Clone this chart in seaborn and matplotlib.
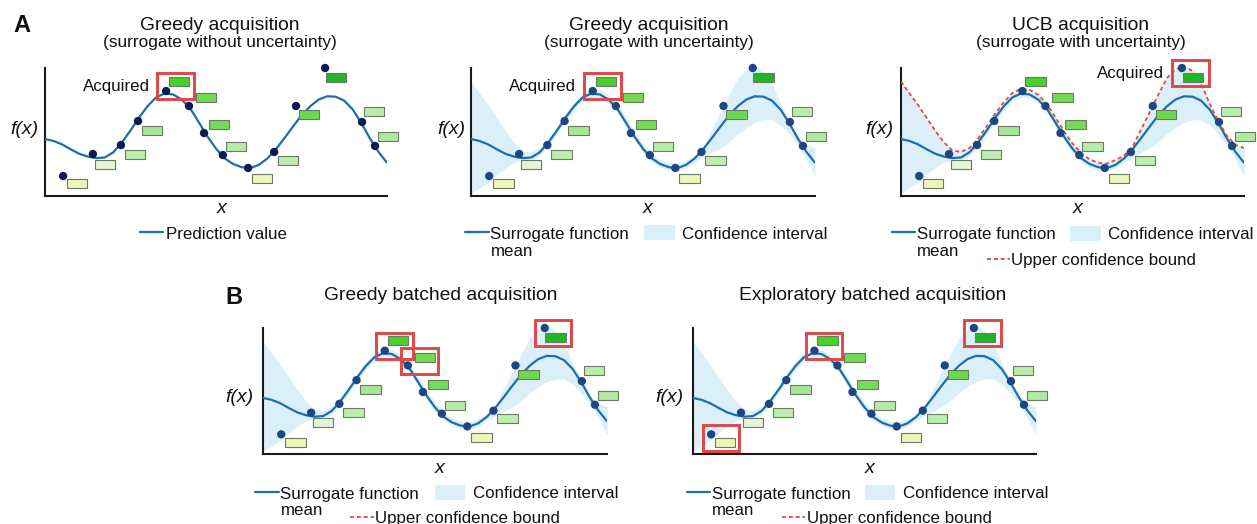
import matplotlib
matplotlib.use("Agg")
import matplotlib.pyplot as plt
from matplotlib.patches import Rectangle
from matplotlib.lines import Line2D
from matplotlib.colors import LinearSegmentedColormap
import seaborn as sns

sns.set_theme(style="white")
plt.rcParams['font.family'] = ['Liberation Sans', 'DejaVu Sans']

W, H = 1257, 524

# ---------------- data (0-100 units per panel) ----------------
curve_x = [0, 2.5, 5, 7.5, 10, 12.5, 15, 17.5, 20, 22.5, 25, 27.5, 30, 32.5, 35, 37.5, 40,
           42.5, 45, 47.5, 50, 52.5, 55, 57.5, 60, 62.5, 65, 67.5, 70, 72.5, 75, 77.5, 80,
           82.5, 85, 87.5, 90, 92.5, 95, 97.5, 100]
mean_y = [44.5, 43.0, 40.3, 36.5, 33.0, 30.8, 29.6, 30.1, 34.2, 41.9, 51.2, 61.3, 70.2, 77.1,
          80.1, 79.3, 75.3, 68.3, 57.5, 46.5, 37.0, 29.5, 25.0, 22.5, 21.8, 24.3, 29.3, 36.5,
          45.2, 54.2, 62.9, 70.0, 75.3, 77.9, 77.6, 74.5, 67.5, 57.0, 45.0, 34.5, 26.0]
ci_upper = [89.5, 80.0, 71.0, 61.0, 51.0, 42.0, 35.5, 34.5, 37.5, 45.0, 54.5, 64.5, 73.5, 80.5,
            83.8, 83.0, 79.0, 72.0, 61.5, 50.5, 41.0, 33.5, 28.5, 26.0, 25.3, 28.0, 31.5, 38.5,
            52.0, 65.5, 79.0, 92.0, 99.0, 102.0, 97.5, 88.0, 72.0, 58.5, 47.0, 40.0, 37.5]
ci_lower = [2.0, 6.5, 10.5, 17.0, 22.0, 26.5, 27.5, 27.8, 31.5, 39.0, 48.5, 58.5, 67.5, 74.5,
            77.2, 76.5, 72.5, 65.5, 54.5, 43.5, 34.0, 27.0, 22.5, 20.0, 19.5, 22.0, 26.5, 30.5,
            34.0, 37.5, 42.0, 48.5, 53.5, 57.5, 59.5, 59.5, 55.5, 48.0, 40.0, 28.5, 15.0]
ucb_y = ci_upper

dot_x = [5.3, 14.0, 22.2, 27.2, 35.4, 42.1, 46.5, 52.0, 59.4, 67.0, 73.4, 81.9, 92.7, 96.5]
dot_y = [15.6, 32.8, 39.8, 58.6, 82.0, 70.3, 49.2, 32.0, 21.9, 34.4, 70.3, 100.0, 57.8, 39.1]

rect_x = [9.4, 17.5, 26.3, 31.3, 39.2, 47.1, 50.9, 55.8, 63.5, 71.1, 77.2, 85.1, 96.2, 100.3]
rect_y = [9.4, 25.0, 32.8, 50.8, 89.8, 76.6, 55.5, 38.3, 13.3, 28.1, 63.3, 92.2, 66.4, 46.1]
rect_value = [0.0, 0.1, 0.3, 0.4, 0.85, 0.7, 0.68, 0.33, 0.0, 0.3, 0.72, 1.0, 0.32, 0.36]

titles = ["Greedy acquisition", "Greedy acquisition", "UCB acquisition",
          "Greedy batched acquisition", "Exploratory batched acquisition"]
subtitles = ["(surrogate without uncertainty)", "(surrogate with uncertainty)",
             "(surrogate with uncertainty)", None, None]
acquired = [[4], [4], [11], [4, 5, 11], [0, 4, 11]]

# ---------------- styles ----------------
CURVE_C = '#1b6fad'
BAND_C = '#dbeff9'
UCB_C = '#e8453c'
BOX_C = '#e04646'
UCB_LS = (0, (2.2, 1.6))
bar_cmap = LinearSegmentedColormap.from_list('bars', [
    (0.0, '#eef5b9'), (0.1, '#e2f5d8'), (0.3, '#bdeeb0'), (0.4, '#a5e794'),
    (0.7, '#72db55'), (0.85, '#46d22a'), (1.0, '#22b525')])

# panel layout: (left, right, bottom, top) in pixels
panels = [
    dict(px=(45, 387, 196, 68), tx=220, ty=29.5, sy=46.5, band=False, ucb=False,
         dot_c='#0c1c52', acq_label=True, fx=(24, 129.5), xl=(222, 213)),
    dict(px=(471, 815, 196, 68), tx=649, ty=29.5, sy=46.5, band=True, ucb=False,
         dot_c='#1e4682', acq_label=True, fx=(451, 130), xl=(647.5, 213)),
    dict(px=(901, 1244, 196, 68), tx=1081, ty=29.5, sy=46.5, band=True, ucb=True,
         dot_c='#1e4682', acq_label=True, fx=(879, 130), xl=(1078, 213)),
    dict(px=(263, 607, 454, 328), tx=441, ty=300.5, sy=None, band=True, ucb=False,
         dot_c='#1e4682', acq_label=False, fx=(239, 397.5), xl=(440, 473)),
    dict(px=(693, 1036, 454, 328), tx=873, ty=300.5, sy=None, band=True, ucb=False,
         dot_c='#1e4682', acq_label=False, fx=(669, 397.5), xl=(870, 473)),
]

fig = plt.figure(figsize=(W / 100, H / 100), dpi=100)
fig.patch.set_facecolor('white')


def fx_(x):
    return x / W


def fy_(y):
    return 1 - y / H


def fig_text(x, y, s, **kw):
    fig.text(fx_(x), fy_(y), s, **kw)


def fig_line(x0, x1, y, **kw):
    fig.add_artist(Line2D([fx_(x0), fx_(x1)], [fy_(y), fy_(y)], transform=fig.transFigure, **kw))


def fig_rect(x0, y0, x1, y1, color):
    fig.add_artist(Rectangle((fx_(x0), fy_(y1)), (x1 - x0) / W, (y1 - y0) / H,
                             transform=fig.transFigure, facecolor=color, edgecolor='none'))


RW_PX, RH_PX = 20.5, 9.0      # bar size in px
BW_PX, BH_PX = 36.5, 26.0     # highlight box size in px

for i, p in enumerate(panels):
    l, r, b, t = p['px']
    ax = fig.add_axes([l / W, 1 - b / H, (r - l) / W, (b - t) / H])
    ax.patch.set_alpha(0)
    pxx = (r - l) / 100.0
    pxy = (b - t) / 100.0

    if p['band']:
        ax.fill_between(curve_x, ci_lower, ci_upper, color=BAND_C, linewidth=0,
                        zorder=1, clip_on=False)
    sns.lineplot(x=curve_x, y=mean_y, ax=ax, color=CURVE_C, linewidth=1.6, zorder=3)
    if p['ucb']:
        sns.lineplot(x=curve_x, y=ucb_y, ax=ax, color=UCB_C, linewidth=1.3,
                     linestyle=UCB_LS, zorder=3.5)

    rw, rh = RW_PX / pxx, RH_PX / pxy
    colors = [bar_cmap(v) for v in rect_value]
    ax.bar(rect_x, [rh] * len(rect_y), width=rw, bottom=[y - rh / 2 for y in rect_y],
           color=colors, edgecolor='#6b7a62', linewidth=0.8, zorder=4, clip_on=False)

    sns.scatterplot(x=dot_x, y=dot_y, ax=ax, s=36, color=p['dot_c'], edgecolor='none',
                    linewidth=0, zorder=5, clip_on=False)

    bw, bh = BW_PX / pxx, BH_PX / pxy
    for k in acquired[i]:
        cx = (dot_x[k] + rect_x[k]) / 2 + 3.0 / pxx
        cy = (dot_y[k] + rect_y[k]) / 2
        ax.add_patch(Rectangle((cx - bw / 2, cy - bh / 2), bw, bh, fill=False,
                               edgecolor=BOX_C, linewidth=2.1, zorder=6, clip_on=False))
        if p['acq_label']:
            ax.annotate("Acquired", xy=(cx - bw / 2, cy), xytext=(-5.6, -3.3),
                        textcoords='offset points', ha='right', va='baseline',
                        fontsize=12.2, color='#111111')

    ax.set_xlim(0, 100)
    ax.set_ylim(0, 100)
    ax.set_xticks([])
    ax.set_yticks([])
    ax.set_xlabel('')
    ax.set_ylabel('')
    for s in ['top', 'right']:
        ax.spines[s].set_visible(False)
    for s in ['left', 'bottom']:
        ax.spines[s].set_color('#1a1a1a')
        ax.spines[s].set_linewidth(1.5)

    fig_text(p['tx'], p['ty'], titles[i], ha='center', va='baseline', fontsize=13.9, color='#111111')
    if subtitles[i]:
        fig_text(p['tx'], p['sy'], subtitles[i], ha='center', va='baseline', fontsize=12.4,
                 color='#111111')
    fig_text(p['fx'][0], p['fx'][1], 'f(x)', ha='center', va='center', fontsize=14,
             style='italic', color='#111111')
    fig_text(p['xl'][0], p['xl'][1], 'x', ha='center', va='baseline', fontsize=14,
             style='italic', color='#111111')

# panel letters
fig_text(13, 32, 'A', ha='left', va='baseline', fontsize=17, fontweight='bold', color='#111111')
fig_text(225, 304, 'B', ha='left', va='baseline', fontsize=17, fontweight='bold', color='#111111')

LEG_FS = 12.2
TXT_C = '#111111'
# legend A1
fig_line(140, 163, 232, color=CURVE_C, linewidth=1.6)
fig_text(166, 239, 'Prediction value', ha='left', va='baseline', fontsize=LEG_FS, color=TXT_C)

# legend A2
fig_line(465, 488.5, 232, color=CURVE_C, linewidth=1.6)
fig_text(490.5, 239, 'Surrogate function', ha='left', va='baseline', fontsize=LEG_FS, color=TXT_C)
fig_text(490.5, 256, 'mean', ha='left', va='baseline', fontsize=LEG_FS, color=TXT_C)
fig_rect(643.5, 225.5, 675, 240, BAND_C)
fig_text(682, 239, 'Confidence interval', ha='left', va='baseline', fontsize=LEG_FS, color=TXT_C)

# legend A3
fig_line(891.5, 915, 232, color=CURVE_C, linewidth=1.6)
fig_text(917, 239, 'Surrogate function', ha='left', va='baseline', fontsize=LEG_FS, color=TXT_C)
fig_text(917, 256, 'mean', ha='left', va='baseline', fontsize=LEG_FS, color=TXT_C)
fig_rect(1070, 226.5, 1100.5, 241, BAND_C)
fig_text(1108.5, 239, 'Confidence interval', ha='left', va='baseline', fontsize=LEG_FS, color=TXT_C)
fig_line(987, 1010, 259, color=UCB_C, linewidth=1.3, linestyle=UCB_LS)
fig_text(1011, 265.5, 'Upper confidence bound', ha='left', va='baseline', fontsize=LEG_FS, color=TXT_C)

# legends B1, B2
for (lx, cix, ucx) in [(255, 435, 350), (686.5, 865, 781.5)]:
    fig_line(lx, lx + 23.5, 491.7, color=CURVE_C, linewidth=1.6)
    fig_text(lx + 25.5, 498.5, 'Surrogate function', ha='left', va='baseline', fontsize=LEG_FS, color=TXT_C)
    fig_text(lx + 25.5, 515, 'mean', ha='left', va='baseline', fontsize=LEG_FS, color=TXT_C)
    fig_rect(cix, 485, cix + 30, 499.5, BAND_C)
    fig_text(cix + 38.3, 498.5, 'Confidence interval', ha='left', va='baseline', fontsize=LEG_FS, color=TXT_C)
    fig_line(ucx, ucx + 23.5, 517.3, color=UCB_C, linewidth=1.3, linestyle=UCB_LS)
    fig_text(ucx + 25, 522.5, 'Upper confidence bound', ha='left', va='baseline', fontsize=LEG_FS, color=TXT_C)

fig.savefig('out.png', dpi=100, facecolor='white')
